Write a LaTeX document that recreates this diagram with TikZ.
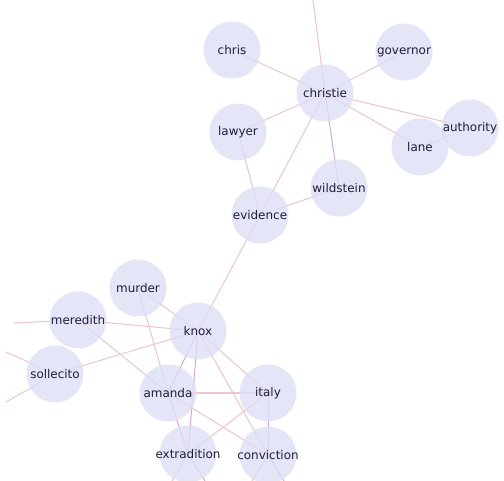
\documentclass[tikz,border=0pt]{standalone}
\usepackage{fontspec}
\setmainfont{DejaVu Sans}
\usetikzlibrary{backgrounds}
\definecolor{nodefill}{RGB}{222,222,246}
\definecolor{edgepink}{RGB}{238,200,204}
\definecolor{edgepurple}{RGB}{208,168,212}
\definecolor{txt}{RGB}{30,30,60}
\tikzset{
  word/.style={circle, minimum size=57bp, inner sep=0pt, fill=nodefill, fill opacity=0.8, text opacity=1, text=txt, font=\fontsize{12}{13}\selectfont,
    execute at begin node={\hbox to 0pt\bgroup\hss}, execute at end node={\hss\egroup}},
  link/.style={draw=edgepink, line width=1.1bp},
  plink/.style={draw=edgepurple, line width=1bp}
}
\begin{document}
\begin{tikzpicture}[x=1bp,y=-1bp]
\useasboundingbox (0,0) rectangle (504,481);
\node[word] (chris) at (232,50) {chris};
\node[word] (christie) at (325,93) {christie};
\node[word] (governor) at (404,52) {governor};
\node[word] (authority) at (470,128) {authority};
\node[word] (lane) at (420,147) {lane};
\node[word] (lawyer) at (238,132) {lawyer};
\node[word] (wildstein) at (339,188) {wildstein};
\node[word] (evidence) at (260,215) {evidence};
\node[word] (murder) at (138,288) {murder};
\node[word] (meredith) at (78,320) {meredith};
\node[word] (knox) at (198,331) {knox};
\node[word] (sollecito) at (55,374) {sollecito};
\node[word] (amanda) at (168,393) {amanda};
\node[word] (italy) at (268,393) {italy};
\node[word] (extradition) at (188,454) {extradition};
\node[word] (conviction) at (268,455) {conviction};
\coordinate (top) at (313,0);
\coordinate (mleft) at (14,323);
\coordinate (sup) at (6,352);
\coordinate (sdown) at (6,402);
\coordinate (e1) at (172,481);
\coordinate (e2) at (205,481);
\coordinate (c1) at (252,481);
\coordinate (c2) at (284,481);
\begin{scope}[on background layer]
\draw[link] (christie.center) -- (top);
\draw[link] (christie.center) -- (chris.center);
\draw[link] (christie.center) -- (governor.center);
\draw[link] (christie.center) -- (authority.center);
\draw[link] (christie.center) -- (lane.center);
\draw[link] (christie.center) -- (lawyer.center);
\draw[plink] (christie.center) -- (wildstein.center);
\draw[link] (christie.center) -- (evidence.center);
\draw[link] (authority.center) -- (lane.center);
\draw[link] (lawyer.center) -- (evidence.center);
\draw[link] (wildstein.center) -- (evidence.center);
\draw[link] (evidence.center) -- (knox.center);
\draw[link] (murder.center) -- (knox.center);
\draw[link] (murder.center) -- (amanda.center);
\draw[link] (meredith.center) -- (knox.center);
\draw[link] (meredith.center) -- (amanda.center);
\draw[link] (meredith.center) -- (mleft);
\draw[link] (sollecito.center) -- (knox.center);
\draw[link] (sollecito.center) -- (sup);
\draw[link] (sollecito.center) -- (sdown);
\draw[plink] (knox.center) -- (amanda.center);
\draw[link] (knox.center) -- (italy.center);
\draw[plink] (knox.center) -- (extradition.center);
\draw[link] (knox.center) -- (conviction.center);
\draw[link] (amanda.center) -- (italy.center);
\draw[plink] (amanda.center) -- (extradition.center);
\draw[link] (amanda.center) -- (conviction.center);
\draw[link] (italy.center) -- (extradition.center);
\draw[plink] (italy.center) -- (conviction.center);
\draw[link] (extradition.center) -- (e1);
\draw[plink] (extradition.center) -- (e2);
\draw[link] (conviction.center) -- (c1);
\draw[plink] (conviction.center) -- (c2);
\end{scope}
\end{tikzpicture}
\end{document}
